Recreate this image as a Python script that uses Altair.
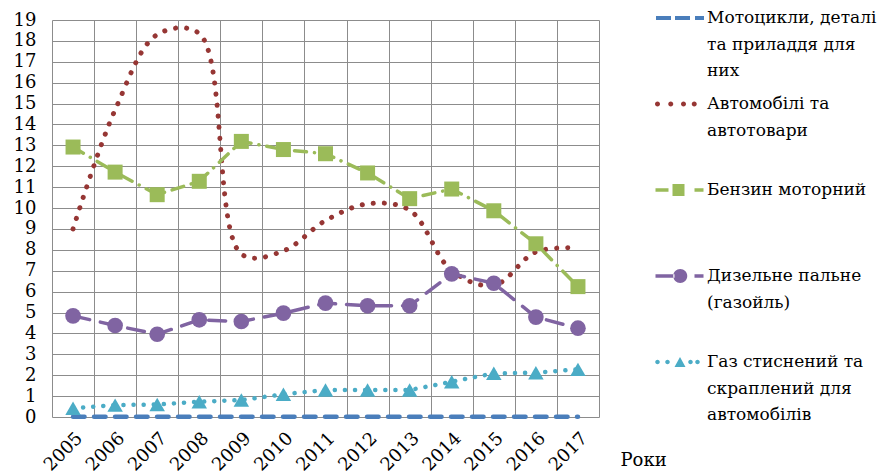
import altair as alt
import pandas as pd

# ---------------- data ----------------
years = ["2005", "2006", "2007", "2008", "2009", "2010", "2011",
         "2012", "2013", "2014", "2015", "2016", "2017"]

series_names = [
    "Мотоцикли, деталі та приладдя для них",
    "Автомобілі та автотовари",
    "Бензин моторний",
    "Дизельне пальне (газойль)",
    "Газ стиснений та скраплений для автомобілів",
]
legend_lines = [
    ["Мотоцикли, деталі", "та приладдя для", "них"],
    ["Автомобілі та", "автотовари"],
    ["Бензин моторний"],
    ["Дизельне пальне", "(газойль)"],
    ["Газ стиснений та", "скраплений для", "автомобілів"],
]

moto = [0.01, 0.01, 0.01, 0.01, 0.01, 0.01, 0.01, 0.01, 0.01, 0.01, 0.01, 0.01, 0.01]
auto = [9.0, 14.7, 18.3, 18.35, 7.8, 7.95, 9.4, 10.2, 9.9, 7.0, 6.3, 7.9, 8.1]
benzin = [12.92, 11.72, 10.64, 11.28, 13.19, 12.8, 12.6, 11.68, 10.45, 10.91, 9.87, 8.29, 6.24]
diesel = [4.84, 4.38, 3.96, 4.65, 4.57, 4.97, 5.45, 5.32, 5.32, 6.85, 6.4, 4.78, 4.25]
gas = [0.42, 0.57, 0.6, 0.73, 0.81, 1.09, 1.29, 1.29, 1.29, 1.69, 2.09, 2.12, 2.28]

y_ticks = list(range(0, 20))
x_title = "Роки"

# ---------------- styles ----------------
colors = ["#4A7EBB", "#963634", "#9BBB59", "#8064A2", "#4BACC6"]
dashes = [[11.5, 9.5], [0.1, 11], [12, 8, 0.1, 8], [17, 11], [0.1, 10]]
widths = [4.5, 5, 3.5, 3.5, 4.5]
interps = ["linear", "catmull-rom", "linear", "linear", "linear"]
markers = [None, None, ("square", 225), ("circle", 245), ("triangle-up", 240)]
FONT = "DejaVu Serif"


def rect(x0, x1, h):
    return f"M{x0},{-h}L{x1},{-h}L{x1},{h}L{x0},{h}Z"


def circ(cx, r):
    return f"M{cx - r},0A{r},{r} 0 1,0 {cx + r},0A{r},{r} 0 1,0 {cx - r},0Z"


def tri(cx, w, h):
    return f"M{cx - w},{h * 0.5}L{cx + w},{h * 0.5}L{cx},{-h * 0.5}Z"


legend_paths = [
    rect(-0.96, -0.36, 0.08) + rect(-0.2, 0.4, 0.08) + rect(0.6, 0.96, 0.08),
    circ(-0.9, 0.1) + circ(-0.37, 0.1) + circ(0.14, 0.1) + circ(0.57, 0.1),
    rect(-0.98, -0.46, 0.07) + rect(-0.3, 0.18, 0.24) + rect(0.58, 0.94, 0.07),
    rect(-0.98, -0.22, 0.07) + circ(0.01, 0.28) + rect(0.58, 0.94, 0.07),
    circ(-0.9, 0.09) + circ(-0.5, 0.09) + tri(0.0, 0.22, 0.4) + circ(0.42, 0.09) + circ(0.7, 0.09),
]

label_expr = "{" + ",".join(
    f"'{n}':[" + ",".join(f"'{l}'" for l in ls) + "]" for n, ls in zip(series_names, legend_lines)
) + "}[datum.label]"

# ---------------- table ----------------
rows = []
for name, vals in zip(series_names, [moto, auto, benzin, diesel, gas]):
    for yr, v in zip(years, vals):
        rows.append({"year": yr, "value": v, "series": name})
df = pd.DataFrame(rows)

x_enc = alt.X(
    "year:O",
    scale=alt.Scale(type="band", paddingInner=0, paddingOuter=0, domain=years),
    bandPosition=0.5,
    axis=alt.Axis(
        title=x_title, tickBand="extent", grid=True, ticks=False, domain=False,
        labelAngle=315, labelAlign="right", labelBaseline="top", labelPadding=12,
        labelOverlap=False,
        labelFont=FONT, labelFontSize=18, labelColor="#000000",
        gridColor="#8c8c8c", gridWidth=1,
        titleFont=FONT, titleFontSize=18, titleFontWeight="normal", titleColor="#000000",
        titleX=568, titleY=43, titleAlign="left", titleBaseline="middle", titleAngle=0,
    ),
)
y_enc = alt.Y(
    "value:Q",
    scale=alt.Scale(domain=[0, 19], nice=False),
    axis=alt.Axis(
        title=None, values=y_ticks, ticks=False, domain=False, labelPadding=16,
        labelOverlap=False,
        labelFont=FONT, labelFontSize=18, labelColor="#000000",
        gridColor="#8c8c8c", gridWidth=1,
    ),
)

layers = []
for i, name in enumerate(series_names):
    base = alt.Chart(df).transform_filter(alt.FieldEqualPredicate(field="series", equal=name))
    layers.append(
        base.mark_line(color=colors[i], strokeDash=dashes[i], strokeWidth=widths[i],
                       strokeCap="round", interpolate=interps[i]).encode(x=x_enc, y=y_enc)
    )
    if markers[i] is not None:
        shp, sz = markers[i]
        layers.append(
            base.mark_point(filled=True, opacity=1, shape=shp, size=sz, color=colors[i]).encode(
                x=x_enc, y=y_enc)
        )

# legend carrier: no visible marks, legend entries come from the explicit scale domains
legend_layer = alt.Chart(df).transform_filter("false").mark_point(filled=True, opacity=1).encode(
    x=x_enc, y=y_enc,
    color=alt.Color(
        "series:N", scale=alt.Scale(domain=series_names, range=colors),
        legend=alt.Legend(
            title=None, orient="none", legendX=603, legendY=-27, padding=0,
            symbolSize=2500, symbolStrokeWidth=0, labelOffset=2, symbolOpacity=1,
            labelFont=FONT, labelFontSize=17, labelColor="#000000", labelLimit=400,
            labelExpr=label_expr, gridAlign="all", rowPadding=0,
        ),
    ),
    shape=alt.Shape("series:N", scale=alt.Scale(domain=series_names, range=legend_paths)),
)
layers.append(legend_layer)

chart = alt.layer(*layers).properties(
    width=547, height=397,
    autosize=alt.AutoSizeParams(type="none"),
    padding={"left": 52, "top": 20, "right": 282, "bottom": 57},
).configure(style={"guide-label": {"lineHeight": 26.5}}).configure_view(stroke=None)

chart.save("out.html", embed_options={"renderer": "svg", "actions": False})
